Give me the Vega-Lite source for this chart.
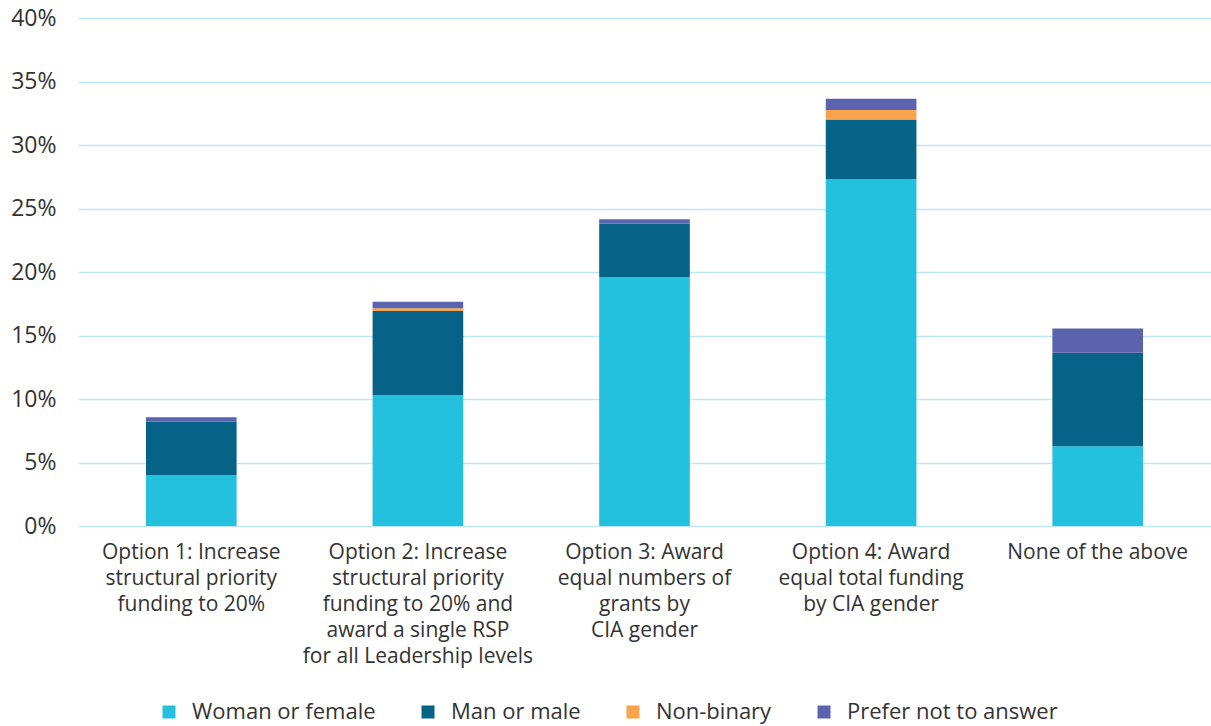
{
  "$schema": "https://vega.github.io/schema/vega-lite/v6.json",
  "width": 1133,
  "height": 508,
  "autosize": {"type": "none"},
  "padding": {"left": 78, "top": 18, "right": 0, "bottom": 200},
  "data": {
    "values": [
      {"option": "Option 1: Increase|structural priority|funding to 20%", "gender": "Woman or female", "rank": 1, "share": 0.0400},
      {"option": "Option 1: Increase|structural priority|funding to 20%", "gender": "Man or male", "rank": 2, "share": 0.0423},
      {"option": "Option 1: Increase|structural priority|funding to 20%", "gender": "Non-binary", "rank": 3, "share": 0.0},
      {"option": "Option 1: Increase|structural priority|funding to 20%", "gender": "Prefer not to answer", "rank": 4, "share": 0.0034},
      {"option": "Option 2: Increase|structural priority|funding to 20% and|award a single RSP|for all Leadership levels", "gender": "Woman or female", "rank": 1, "share": 0.1030},
      {"option": "Option 2: Increase|structural priority|funding to 20% and|award a single RSP|for all Leadership levels", "gender": "Man or male", "rank": 2, "share": 0.0663},
      {"option": "Option 2: Increase|structural priority|funding to 20% and|award a single RSP|for all Leadership levels", "gender": "Non-binary", "rank": 3, "share": 0.0021},
      {"option": "Option 2: Increase|structural priority|funding to 20% and|award a single RSP|for all Leadership levels", "gender": "Prefer not to answer", "rank": 4, "share": 0.0052},
      {"option": "Option 3: Award|equal numbers of|grants by|CIA gender", "gender": "Woman or female", "rank": 1, "share": 0.1961},
      {"option": "Option 3: Award|equal numbers of|grants by|CIA gender", "gender": "Man or male", "rank": 2, "share": 0.0420},
      {"option": "Option 3: Award|equal numbers of|grants by|CIA gender", "gender": "Non-binary", "rank": 3, "share": 0.0},
      {"option": "Option 3: Award|equal numbers of|grants by|CIA gender", "gender": "Prefer not to answer", "rank": 4, "share": 0.0034},
      {"option": "Option 4: Award|equal total funding|by CIA gender", "gender": "Woman or female", "rank": 1, "share": 0.2733},
      {"option": "Option 4: Award|equal total funding|by CIA gender", "gender": "Man or male", "rank": 2, "share": 0.0468},
      {"option": "Option 4: Award|equal total funding|by CIA gender", "gender": "Non-binary", "rank": 3, "share": 0.0074},
      {"option": "Option 4: Award|equal total funding|by CIA gender", "gender": "Prefer not to answer", "rank": 4, "share": 0.0089},
      {"option": "None of the above", "gender": "Woman or female", "rank": 1, "share": 0.0628},
      {"option": "None of the above", "gender": "Man or male", "rank": 2, "share": 0.0736},
      {"option": "None of the above", "gender": "Non-binary", "rank": 3, "share": 0.0},
      {"option": "None of the above", "gender": "Prefer not to answer", "rank": 4, "share": 0.0192}
    ]
  },
  "mark": {"type": "bar"},
  "encoding": {
    "x": {
      "field": "option",
      "type": "nominal",
      "sort": null,
      "scale": {"paddingInner": 0.6, "paddingOuter": 0.3},
      "axis": {
        "title": null,
        "labelAngle": 0,
        "labelExpr": "split(datum.value, '|')",
        "labelFont": "Open Sans",
        "labelFontSize": 21,
        "labelColor": "#333333",
        "labelLineHeight": 26,
        "labelBaseline": "top",
        "labelPadding": 15,
        "labelLimit": 300,
        "domain": false,
        "ticks": false
      }
    },
    "y": {
      "field": "share",
      "type": "quantitative",
      "stack": "zero",
      "scale": {"domain": [0, 0.4]},
      "axis": {
        "title": null,
        "values": [0, 0.05, 0.1, 0.15, 0.2, 0.25, 0.3, 0.35, 0.4],
        "format": ".0%",
        "labelFont": "Open Sans",
        "labelFontSize": 23,
        "labelColor": "#333333",
        "labelPadding": 22,
        "domain": false,
        "ticks": false,
        "gridColor": "#BFE7EF",
        "gridWidth": 1.5
      }
    },
    "color": {
      "field": "gender",
      "type": "nominal",
      "sort": ["Woman or female", "Man or male", "Non-binary", "Prefer not to answer"],
      "scale": {
        "domain": ["Woman or female", "Man or male", "Non-binary", "Prefer not to answer"],
        "range": ["#23C1DE", "#066387", "#F9A34D", "#5B62AE"]
      },
      "legend": {
        "title": null,
        "orient": "none",
        "direction": "horizontal",
        "legendX": 80,
        "legendY": 683,
        "symbolType": "square",
        "symbolSize": 169,
        "symbolStrokeWidth": 0,
        "labelFont": "Open Sans",
        "labelFontSize": 22,
        "labelColor": "#333333",
        "labelOffset": 12,
        "columnPadding": 41,
        "labelLimit": 400
      }
    },
    "order": {"field": "rank", "type": "quantitative", "sort": "ascending"}
  },
  "config": {"view": {"stroke": null}}
}
